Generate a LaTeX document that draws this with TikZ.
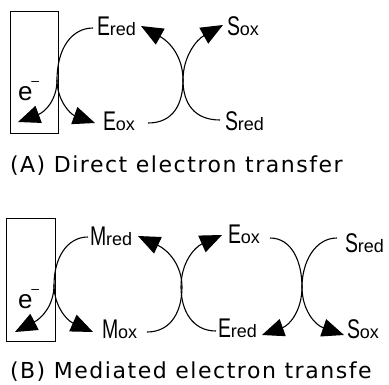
\documentclass[tikz,border=0pt]{standalone}
\usepackage{fontspec}
\usepackage{graphicx}
\usetikzlibrary{arrows.meta}
\newfontfamily\labfont{Liberation Sans}
\newfontfamily\capfont[LetterSpace=7]{DejaVu Sans}
\newcommand\CapL[1]{{\labfont\fontsize{27}{27}\selectfont\scalebox{0.72}[1]{#1}}}
\newcommand\SubL[1]{{\labfont\fontsize{18}{18}\selectfont #1}}
\newcommand\Elec{{\labfont\fontsize{26}{26}\selectfont e\kern-1pt\raisebox{15pt}{\fontsize{14}{14}\selectfont –}}}
\tikzset{
  lab/.style={inner sep=0pt, outer sep=0pt, anchor=base west},
  capt/.style={inner sep=0pt, outer sep=0pt, anchor=base west, font=\capfont\fontsize{22}{22}\selectfont},
  electrode/.style={draw, line width=0.9pt},
  curve/.style={line width=1.1pt},
  conn/.style={line width=1.1pt, -{Triangle[length=22pt,width=18pt]}}
}
\begin{document}
\begin{tikzpicture}[x=1pt,y=-1pt]
\useasboundingbox (0,0) rectangle (389,384);
% ---------------- Panel A ----------------
\node[electrode, minimum width=48pt, minimum height=122pt, inner sep=0pt, anchor=north west] (rA) at (10,11) {};
\node[lab] (eA) at (18,100) {\Elec};
\node[lab] (EredA) at (97,35) {\CapL{E}\SubL{red}};
\node[lab] (EoxA) at (103,130) {\CapL{E}\SubL{ox}};
\node[lab] (SoxA) at (227,35) {\CapL{S}\SubL{ox}};
\node[lab] (SredA) at (225,130) {\CapL{S}\SubL{red}};
\coordinate (aA1) at (93,28);
\coordinate (jA) at (57,80);
\coordinate (tAL) at (18,122);
\coordinate (tAR) at (95,123);
\coordinate (aA2) at (148,123);
\coordinate (tA2) at (141,26);
\coordinate (aA3) at (220,120);
\coordinate (tA3) at (223,25);
\draw[curve] (aA1) .. controls (72,28) and (57,48) .. (jA);
\draw[conn] (jA) .. controls (57,100) and (45,112) .. (tAL);
\draw[conn] (jA) .. controls (57,100) and (70,114) .. (tAR);
\draw[conn] (aA2) .. controls (174,123) and (183,103) .. (183,80) .. controls (183,57) and (170,42) .. (tA2);
\draw[conn] (aA3) .. controls (194,120) and (183,103) .. (183,80) .. controls (183,57) and (196,40) .. (tA3);
\node[capt] (capA) at (10,172) {(A) Direct electron transfer};
% ---------------- Panel B ----------------
\node[electrode, minimum width=49pt, minimum height=123pt, inner sep=0pt, anchor=north west] (rB) at (6,218) {};
\node[lab] (eB) at (18,308) {\Elec};
\node[lab] (MredB) at (90,245) {\CapL{M}\SubL{red}};
\node[lab] (MoxB) at (102,338) {\CapL{M}\SubL{ox}};
\node[lab] (EoxB) at (228,243) {\CapL{E}\SubL{ox}};
\node[lab] (EredB) at (218,337) {\CapL{E}\SubL{red}};
\node[lab] (SredB) at (345,252) {\CapL{S}\SubL{red}};
\node[lab] (SoxB) at (347,338) {\CapL{S}\SubL{ox}};
\coordinate (aB1) at (88,237);
\coordinate (jB) at (54,285);
\coordinate (tBL) at (15,332);
\coordinate (tBR) at (93,332);
\coordinate (aB2) at (147,332);
\coordinate (tB2) at (138,236);
\coordinate (aB3) at (216,331);
\coordinate (tB3) at (222,235);
\coordinate (aB4) at (270,238);
\coordinate (tB4) at (262,335);
\coordinate (aB5) at (337,238);
\coordinate (tB5) at (344,335);
\draw[curve] (aB1) .. controls (67,237) and (54,258) .. (jB);
\draw[conn] (jB) .. controls (54,305) and (42,318) .. (tBL);
\draw[conn] (jB) .. controls (54,305) and (66,320) .. (tBR);
\draw[conn] (aB2) .. controls (172,332) and (182,310) .. (182,287) .. controls (182,265) and (168,250) .. (tB2);
\draw[conn] (aB3) .. controls (192,331) and (181,310) .. (181,287) .. controls (181,262) and (195,247) .. (tB3);
\draw[conn] (aB4) .. controls (292,238) and (302,262) .. (302,287) .. controls (302,310) and (290,325) .. (tB4);
\draw[conn] (aB5) .. controls (315,238) and (302,262) .. (302,287) .. controls (302,310) and (315,325) .. (tB5);
\node[capt] (capB) at (10,378) {(B) Mediated electron transfe};
\end{tikzpicture}
\end{document}
